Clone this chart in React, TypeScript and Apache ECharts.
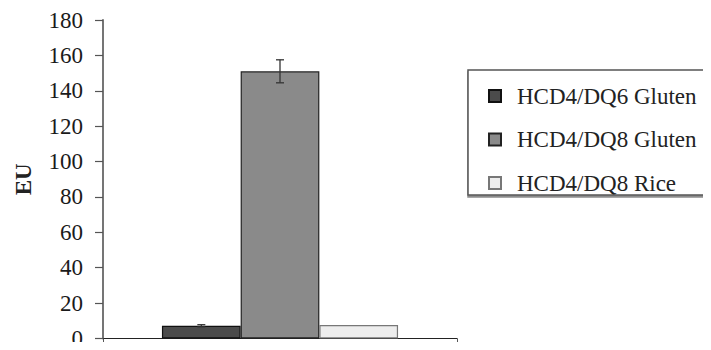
import React, { useEffect, useRef } from "react";
import * as echarts from "echarts";

const categories = [""];
const seriesNames = ["HCD4/DQ6 Gluten", "HCD4/DQ8 Gluten", "HCD4/DQ8 Rice"];
const seriesValues = [7.2, 151, 7.6];
const seriesErrors = [0.6, 6.5, 0];
const seriesColors = ["#4b4b4b", "#8a8a8a", "#ededed"];
const seriesBorders = ["#111111", "#222222", "#777777"];
const yTicks = { min: 0, max: 180, interval: 20 };

const FONT = "Liberation Serif";
const CAT_GAP = 1 / 3;

export default function App() {
  const ref = useRef<HTMLDivElement>(null);
  useEffect(() => {
    if (!ref.current) return;
    const chart = echarts.init(ref.current, undefined, { renderer: "svg" });
    const barSeries = seriesNames.map((name, i) => ({
      name,
      type: "bar",
      data: [seriesValues[i]],
      barGap: "0%",
      barCategoryGap: "33.3%",
      itemStyle: { color: seriesColors[i], borderColor: seriesBorders[i], borderWidth: 1.2 },
    }));
    const errData = seriesNames
      .map((_, i) => [0, i, seriesValues[i] - seriesErrors[i], seriesValues[i] + seriesErrors[i]])
      .filter((d, i) => seriesErrors[i] > 0);
    chart.setOption({
      animation: false,
      textStyle: { fontFamily: FONT },
      grid: { left: 103, top: 20, right: 254, bottom: 9 },
      legend: {
        data: seriesNames,
        orient: "vertical",
        left: 483,
        top: 79,
        itemWidth: 12,
        itemHeight: 12,
        itemGap: 19.5,
        icon: "rect",
        textStyle: { fontFamily: FONT, fontSize: 23, color: "#222", lineHeight: 24, padding: [0, 0, 0, 11] },
      },
      graphic: [
        {
          type: "rect",
          shape: { x: 468, y: 70, width: 260, height: 125 },
          style: { fill: "#fff", stroke: "#555", lineWidth: 1.5, shadowColor: "rgba(0,0,0,0.45)", shadowOffsetY: 2, shadowBlur: 1 },
          z: -1,
        },
      ],
      xAxis: {
        type: "category",
        data: categories,
        axisLine: { lineStyle: { color: "#222", width: 1.2 } },
        axisTick: { show: true, length: 6, lineStyle: { color: "#555" } },
        axisLabel: { show: false },
      },
      yAxis: {
        type: "value",
        min: yTicks.min,
        max: yTicks.max,
        interval: yTicks.interval,
        name: "EU",
        nameLocation: "middle",
        nameGap: 68,
        nameTextStyle: { fontFamily: FONT, fontSize: 23, fontWeight: "bold", color: "#222" },
        axisLine: { show: true, lineStyle: { color: "#666", width: 1.8 } },
        axisTick: { show: true, length: 8, lineStyle: { color: "#555", width: 1.2 } },
        axisLabel: {
          show: true,
          fontFamily: FONT,
          fontSize: 23,
          color: "#1a1a1a",
          margin: 20,
          formatter: (v: number) => String(v),
        },
        splitLine: { show: false },
      },
      series: [
        ...barSeries,
        {
          type: "custom",
          name: "err",
          data: errData,
          encode: { x: 0, y: [2, 3] },
          z: 10,
          renderItem: (params: any, api: any) => {
            const catW = api.size([1, 0])[0];
            const barW = (catW * (1 - CAT_GAP)) / seriesNames.length;
            const base = api.coord([api.value(0), api.value(2)]);
            const top = api.coord([api.value(0), api.value(3)]);
            const cx = base[0] + (api.value(1) - (seriesNames.length - 1) / 2) * barW;
            const style = { stroke: "#333", lineWidth: 1.3 };
            return {
              type: "group",
              children: [
                { type: "line", shape: { x1: cx, y1: base[1], x2: cx, y2: top[1] }, style },
                { type: "line", shape: { x1: cx - 4, y1: top[1], x2: cx + 4, y2: top[1] }, style },
                { type: "line", shape: { x1: cx - 4, y1: base[1], x2: cx + 4, y2: base[1] }, style },
              ],
            };
          },
        },
      ],
    });
    return () => chart.dispose();
  }, []);
  return <div ref={ref} style={{ width: 711, height: 350, margin: -8 }} />;
}
